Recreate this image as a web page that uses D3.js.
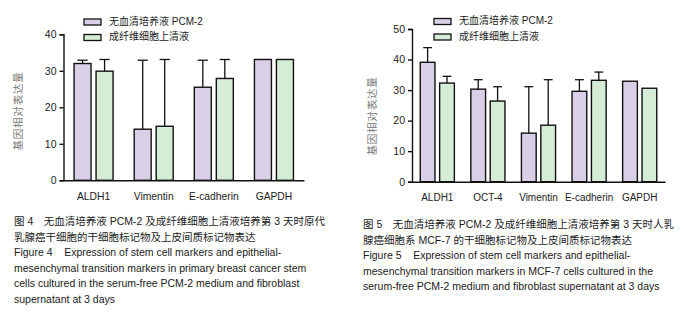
<!DOCTYPE html>
<html>
<head>
<meta charset="utf-8">
<script src="https://cdn.jsdelivr.net/npm/d3@7"></script>
<style>
    body { margin: 0; background: #fff; }
    svg { display: block; font-family: "Liberation Sans", Arial, "Noto Sans CJK SC", sans-serif; }
    .caption { font-size: 10.5px; fill: #1a1a1a; white-space: pre; }
</style>
</head>
<body>
<div id="chart"></div>
<script>
// series labels
const seriesNames = ["无血清培养液 PCM-2", "成纤维细胞上清液"];
const seriesColors = ["#d9d0e8", "#d5edd6"];
const yTitle = "基因相对表达量";

// Figure 4 - primary breast cancer stem cells
const fig4Genes = ["ALDH1", "Vimentin", "E-cadherin", "GAPDH"];
const fig4PCM = [32.0, 14.0, 25.5, 33.1];
const fig4PCMErr = [0.9, 18.9, 7.4, 0];
const fig4Fib = [29.9, 14.8, 27.9, 33.1];
const fig4FibErr = [3.2, 18.3, 5.2, 0];
const fig4Ticks = [0, 10, 20, 30, 40];

// Figure 5 - MCF-7 cells
const fig5Genes = ["ALDH1", "OCT-4", "Vimentin", "E-cadherin", "GAPDH"];
const fig5PCM = [39.1, 30.3, 15.9, 29.6, 32.9];
const fig5PCMErr = [4.8, 3.1, 15.2, 3.8, 0];
const fig5Fib = [32.3, 26.4, 18.5, 33.2, 30.6];
const fig5FibErr = [2.2, 4.7, 14.9, 2.7, 0];
const fig5Ticks = [0, 10, 20, 30, 40, 50];

const fig4Caption = [
    "图 4　无血清培养液 PCM-2 及成纤维细胞上清液培养第 3 天时原代",
    "乳腺癌干细胞的干细胞标记物及上皮间质标记物表达",
    "Figure 4    Expression of stem cell markers and epithelial-",
    "mesenchymal transition markers in primary breast cancer stem",
    "cells cultured in the serum-free PCM-2 medium and fibroblast",
    "supernatant at 3 days"
];
const fig5Caption = [
    "图 5　无血清培养液 PCM-2 及成纤维细胞上清液培养第 3 天时人乳",
    "腺癌细胞系 MCF-7 的干细胞标记物及上皮间质标记物表达",
    "Figure 5    Expression of stem cell markers and epithelial-",
    "mesenchymal transition markers in MCF-7 cells cultured in the",
    "serum-free PCM-2 medium and fibroblast supernatant at 3 days"
];

const svg = d3.select("#chart").append("svg")
    .attr("width", 687)
    .attr("height", 319);

/*
 *  draw one grouped bar chart with error bars
 */
function drawChart(opt) {
    let rows = opt.genes.map((g, i) => ({
        gene: g,
        vals: [
            {s: 0, v: opt.pcm[i], e: opt.pcmErr[i]},
            {s: 1, v: opt.fib[i], e: opt.fibErr[i]}
        ]
    }));

    let y = d3.scaleLinear()
        .domain([0, d3.max(opt.ticks)])
        .range([opt.y0, opt.yTop]);

    let x = d3.scaleBand()
        .domain(opt.genes)
        .range([opt.xStart, opt.xEnd]);

    let xSub = d3.scaleBand()
        .domain([0, 1])
        .range([0, x.bandwidth()])
        .paddingInner(opt.padIn)
        .paddingOuter(opt.padOut);

    let g = svg.append("g");

    // bars
    let groups = g.selectAll(".grp")
        .data(rows)
        .enter()
        .append("g")
        .attr("class", "grp")
        .attr("transform", d => "translate(" + x(d.gene) + ",0)");

    groups.selectAll("rect")
        .data(d => d.vals)
        .enter()
        .append("rect")
        .attr("x", d => xSub(d.s))
        .attr("y", d => y(d.v))
        .attr("width", xSub.bandwidth())
        .attr("height", d => y(0) - y(d.v))
        .attr("fill", d => seriesColors[d.s])
        .attr("stroke", "#111")
        .attr("stroke-width", 1.4);

    // error bars (upper only)
    let errs = groups.selectAll(".err")
        .data(d => d.vals.filter(v => v.e > 0))
        .enter()
        .append("g")
        .attr("class", "err")
        .attr("stroke", "#111")
        .attr("stroke-width", 1.3);

    let capW = xSub.bandwidth() * 0.3;
    errs.append("line")
        .attr("x1", d => xSub(d.s) + xSub.bandwidth() / 2)
        .attr("x2", d => xSub(d.s) + xSub.bandwidth() / 2)
        .attr("y1", d => y(d.v))
        .attr("y2", d => y(d.v + d.e));
    errs.append("line")
        .attr("x1", d => xSub(d.s) + xSub.bandwidth() / 2 - capW)
        .attr("x2", d => xSub(d.s) + xSub.bandwidth() / 2 + capW)
        .attr("y1", d => y(d.v + d.e))
        .attr("y2", d => y(d.v + d.e));

    // axes
    let yAxis = d3.axisLeft(y)
        .tickValues(opt.ticks)
        .tickSize(4)
        .tickPadding(3)
        .tickFormat(d3.format("d"));

    g.append("g")
        .attr("transform", "translate(" + opt.xStart + ",0)")
        .call(yAxis)
        .call(a => a.select(".domain").attr("stroke-width", 1.4).attr("stroke", "#111"))
        .call(a => a.selectAll(".tick line").attr("stroke-width", 1.4).attr("stroke", "#111"))
        .call(a => a.selectAll("text").attr("font-size", 10.5).attr("fill", "#222")
            .attr("font-family", "'Liberation Sans', Arial, sans-serif"));

    let xAxis = d3.axisBottom(x)
        .tickSize(0)
        .tickPadding(12);

    g.append("g")
        .attr("transform", "translate(0," + opt.y0 + ")")
        .call(xAxis)
        .call(a => a.select(".domain").attr("stroke-width", 1.4).attr("stroke", "#111"))
        .call(a => a.selectAll("text").attr("font-size", opt.catSize).attr("fill", "#222")
            .attr("font-family", "'Liberation Sans', Arial, sans-serif"));

    // y title
    g.append("text")
        .attr("transform", "translate(" + opt.titleX + "," + opt.titleY + ") rotate(-90)")
        .attr("text-anchor", "middle")
        .attr("dominant-baseline", "middle")
        .attr("font-size", 10.5)
        .attr("letter-spacing", 0.8)
        .attr("fill", "#7a7a7a")
        .text(yTitle);

    // legend
    let leg = g.selectAll(".leg")
        .data(seriesNames)
        .enter()
        .append("g")
        .attr("class", "leg")
        .attr("transform", (d, i) => "translate(" + opt.legX + "," + (opt.legY + i * 15.5) + ")");

    leg.append("rect")
        .attr("x", 0)
        .attr("y", -3)
        .attr("width", 17)
        .attr("height", 6)
        .attr("fill", (d, i) => seriesColors[i])
        .attr("stroke", "#111")
        .attr("stroke-width", 1.3);

    leg.append("text")
        .attr("x", 25)
        .attr("y", 0)
        .attr("dominant-baseline", "middle")
        .attr("font-size", 10)
        .attr("fill", "#222")
        .text(d => d);

    // caption
    svg.append("g")
        .selectAll("text")
        .data(opt.caption)
        .enter()
        .append("text")
        .attr("class", "caption")
        .attr("x", opt.capX)
        .attr("y", (d, i) => opt.capY + i * 15.6)
        .text(d => d);
}

drawChart({
    genes: fig4Genes, pcm: fig4PCM, pcmErr: fig4PCMErr, fib: fig4Fib, fibErr: fig4FibErr,
    ticks: fig4Ticks, caption: fig4Caption,
    y0: 180.3, yTop: 34.3, xStart: 63.5, xEnd: 304,
    padIn: 0.227, padOut: 0.48, catSize: 10.3,
    titleX: 19, titleY: 111,
    legX: 84, legY: 22,
    capX: 14, capY: 225
});

drawChart({
    genes: fig5Genes, pcm: fig5PCM, pcmErr: fig5PCMErr, fib: fig5Fib, fibErr: fig5FibErr,
    ticks: fig5Ticks, caption: fig5Caption,
    y0: 181.7, yTop: 29, xStart: 412, xEnd: 665,
    padIn: 0.24, padOut: 0.425, catSize: 10,
    titleX: 373, titleY: 116,
    legX: 434, legY: 21.5,
    capX: 363, capY: 228
});
</script>
</body>
</html>
